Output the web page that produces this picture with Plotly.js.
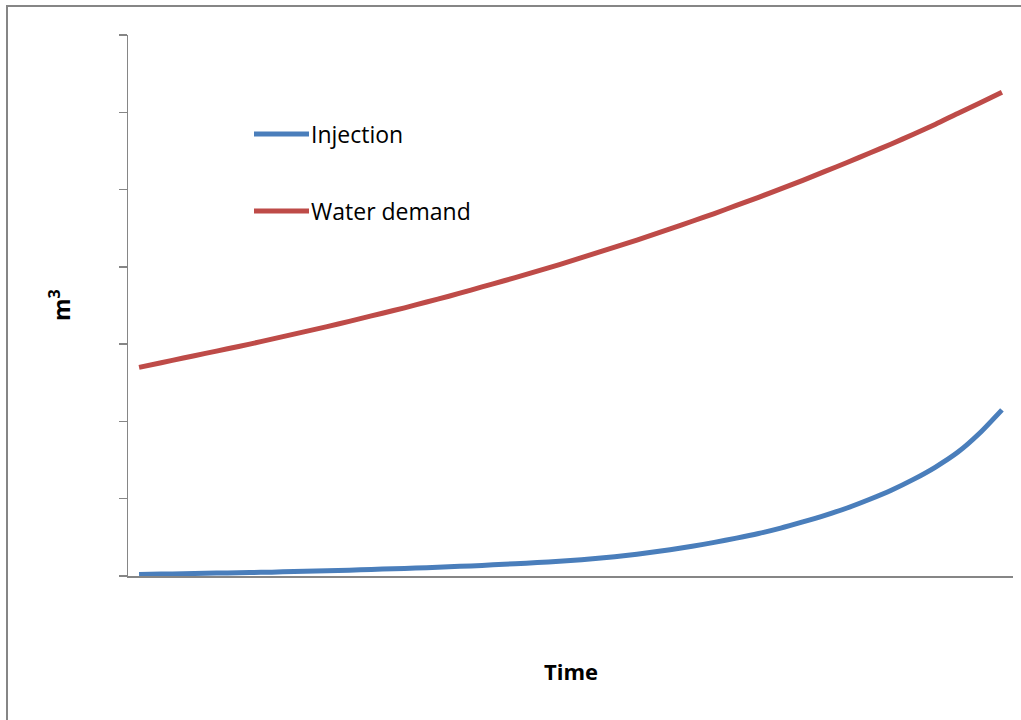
<!DOCTYPE html>
<html>
<head>
<meta charset="utf-8">
<script src="https://cdn.plot.ly/plotly-3.0.1.min.js"></script>
<style>html,body{margin:0;padding:0;background:#fff;}#chart{width:1021px;height:720px;}</style>
</head>
<body>
<div id="chart"></div>
<script>
// Time steps (category positions)
const timeSteps = [1,2,3,4,5,6,7,8,9,10,11,12,13,14,15,16,17,18,19,20,21,22,23,24,25,26,27,28,29,30,31,32,33,34,35,36,37,38,39,40];
// Series values (m3, arbitrary units)
const injection = [0.02,0.025,0.03,0.035,0.04,0.045,0.05,0.058,0.065,0.072,0.08,0.089,0.098,0.108,0.119,0.131,0.144,0.159,0.174,0.19,0.21,0.235,0.265,0.30,0.34,0.385,0.435,0.49,0.55,0.62,0.70,0.785,0.88,0.99,1.11,1.25,1.41,1.60,1.85,2.15];
const waterDemand = [2.70,2.76,2.82,2.88,2.94,3.00,3.065,3.13,3.195,3.26,3.33,3.40,3.47,3.545,3.62,3.70,3.78,3.86,3.945,4.03,4.12,4.21,4.30,4.395,4.49,4.59,4.69,4.795,4.90,5.01,5.12,5.235,5.35,5.47,5.59,5.715,5.845,5.985,6.12,6.26];
const seriesNames = ["Injection", "Water demand"];
const seriesColors = ["#4A7EBB", "#BE4B48"];

const traces = [
  {x: timeSteps, y: injection, name: seriesNames[0], type: "scatter", mode: "lines",
   line: {color: seriesColors[0], width: 5, shape: "spline", smoothing: 0.6}, showlegend: false},
  {x: timeSteps, y: waterDemand, name: seriesNames[1], type: "scatter", mode: "lines",
   line: {color: seriesColors[1], width: 5, shape: "spline", smoothing: 0.6}, showlegend: false}
];

const W = 1021, H = 720, L = 128, R = 8, T = 35, B = 144;
const pw = W - L - R, ph = H - T - B;
const px = v => (v - L) / pw;
const py = v => (H - B - v) / ph;

const legendY = [134, 211];
const shapes = [
  {type: "rect", xref: "paper", yref: "paper", x0: px(7), x1: px(1040), y0: py(740), y1: py(6),
   line: {color: "#868686", width: 2}, fillcolor: "rgba(0,0,0,0)", layer: "below"}
];
const annotations = [
  {xref: "paper", yref: "paper", x: 0.5, y: py(671), text: "<b>Time</b>", showarrow: false,
   font: {family: "Open Sans", size: 22, color: "#000"}, xanchor: "center", yanchor: "middle"},
  {xref: "paper", yref: "paper", x: px(60), y: py(305), text: "<b>m<sup>3</sup></b>", showarrow: false,
   textangle: -90, font: {family: "Open Sans", size: 23, color: "#000"}, xanchor: "center", yanchor: "middle"}
];
seriesNames.forEach((n, i) => {
  shapes.push({type: "line", xref: "paper", yref: "paper", x0: px(254), x1: px(309), y0: py(legendY[i]), y1: py(legendY[i]),
    line: {color: seriesColors[i], width: 5}});
  annotations.push({xref: "paper", yref: "paper", x: px(309), y: py(legendY[i]), text: n, showarrow: false,
    font: {family: "Open Sans", size: 23, color: "#000"}, xanchor: "left", yanchor: "middle"});
});

const layout = {
  width: W, height: H,
  margin: {l: L, r: R, t: T, b: B, pad: 0},
  paper_bgcolor: "#fff", plot_bgcolor: "#fff",
  xaxis: {range: [0.5, 40.5], showline: true, linecolor: "#868686", linewidth: 1.5,
          ticks: "", showticklabels: false, showgrid: false, zeroline: false, fixedrange: true},
  yaxis: {range: [0, 7], dtick: 1, tick0: 0, showline: true, linecolor: "#868686", linewidth: 1.5,
          ticks: "outside", ticklen: 8, tickwidth: 1.5, tickcolor: "#868686",
          showticklabels: false, showgrid: false, zeroline: false, fixedrange: true},
  shapes: shapes,
  annotations: annotations,
  showlegend: false
};

Plotly.newPlot("chart", traces, layout, {displayModeBar: false, staticPlot: true});
</script>
</body>
</html>
